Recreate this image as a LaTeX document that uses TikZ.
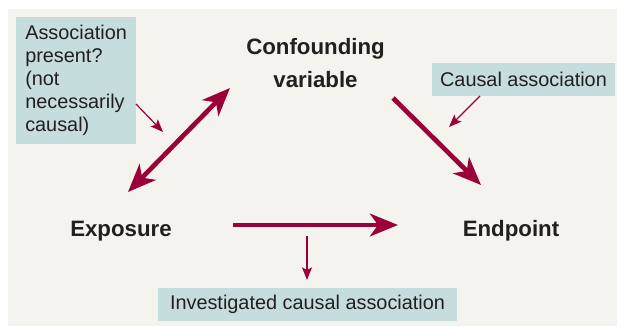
\documentclass[tikz,border=0pt]{standalone}
\usepackage{fontspec}
\setmainfont{Liberation Sans}
\usepackage{tikz}
\usetikzlibrary{arrows.meta}

\definecolor{panelbg}{HTML}{F4F3EE}
\definecolor{boxteal}{HTML}{C5DDDC}
\definecolor{arrowred}{HTML}{9B0039}
\definecolor{textgray}{HTML}{231F20}

\tikzset{
  bigtip/.tip={Stealth[length=21pt,width=17pt,inset=6pt]},
  smalltip/.tip={Stealth[length=9.5pt,width=7.5pt,inset=2pt]},
  varlabel/.style={font=\fontsize{16.7}{24.75}\selectfont\bfseries,text=textgray,inner sep=0pt,align=center},
  notebox/.style={fill=boxteal,text=textgray,font=\fontsize{14.9}{17.25}\selectfont,inner sep=0pt},
  bigarrow/.style={draw=arrowred,line width=3.5pt},
  smallarrow/.style={draw=arrowred,line width=0.9pt,-smalltip}
}

\begin{document}
\begin{tikzpicture}[x=0.75pt,y=0.75pt,yscale=-1,xscale=1]
\useasboundingbox (0,0) rectangle (617,326);
\fill [white] (0,0) rectangle (617,326);
\fill [panelbg] (8,9) rectangle (617,326);

% Text Node
\draw (315.5,63.5) node [varlabel] (confounder) {Confounding\\variable};
% Text Node
\draw (121,236) node [varlabel,anchor=base] (exposure) {Exposure};
% Text Node
\draw (511,236) node [varlabel,anchor=base] (endpoint) {Endpoint};

% Box Node
\draw (16,17) node [notebox,anchor=north west,text width=76.5pt,inner xsep=6.75pt,minimum height=95.25pt,align=left] (assocnote) {Association\\present?\\(not\\necessarily\\causal)};
% Box Node
\draw (523.5,79.5) node [notebox,minimum width=137.25pt,minimum height=24.75pt] (causalnote) {Causal association};
% Box Node
\draw (307.5,304.5) node [notebox,minimum width=224.25pt,minimum height=24.75pt] (studynote) {Investigated causal association};

% arrow ends
\coordinate (assocLow) at (128,192);
\coordinate (assocUp) at (230,88);
\coordinate (causalFrom) at (393,98);
\coordinate (causalTo) at (481,185);
\coordinate (studyFrom) at (233,225);
\coordinate (studyTo) at (398,225);
\coordinate (assocPtFrom) at (136,104);
\coordinate (assocPtTo) at (163,132);
\coordinate (causalPtFrom) at (480,96);
\coordinate (causalPtTo) at (449,127);
\coordinate (studyPtFrom) at (307,236);
\coordinate (studyPtTo) at (307,280);

\draw [bigarrow,bigtip-bigtip] (assocLow) -- (assocUp);
\draw [bigarrow,-bigtip] (causalFrom) -- (causalTo);
\draw [bigarrow,-bigtip] (studyFrom) -- (studyTo);

\draw [smallarrow] (assocPtFrom) -- (assocPtTo);
\draw [smallarrow] (causalPtFrom) -- (causalPtTo);
\draw [smallarrow] (studyPtFrom) -- (studyPtTo);

\end{tikzpicture}
\end{document}
